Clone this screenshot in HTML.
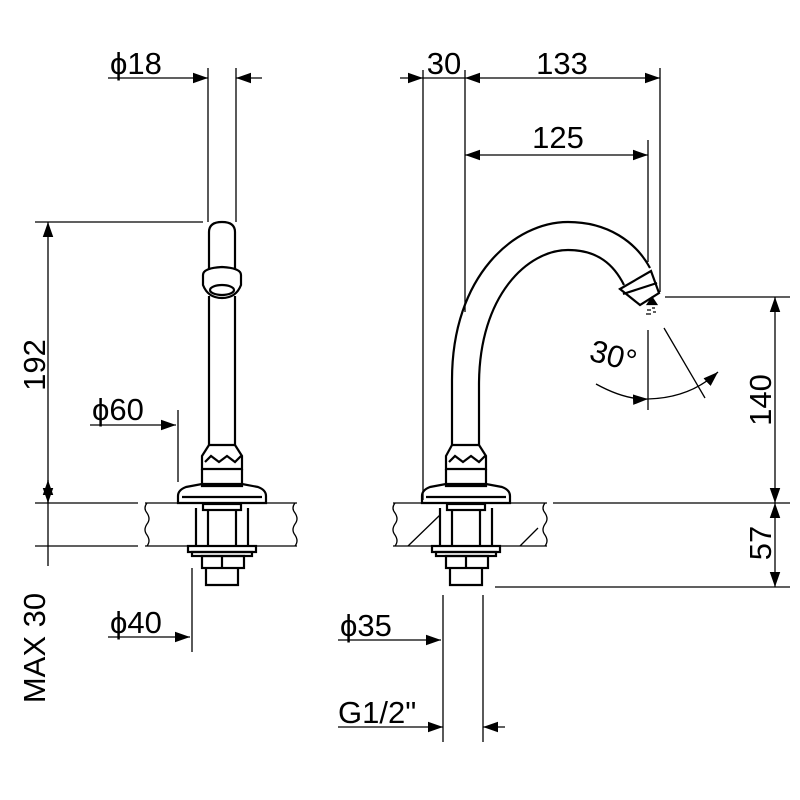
<!DOCTYPE html>
<html><head><meta charset="utf-8"><style>
html,body{margin:0;padding:0;background:#fff}
svg{display:block}
text{font-family:"Liberation Sans","DejaVu Sans",sans-serif;font-size:31px;fill:#000}
</style></head><body>
<svg width="800" height="800" viewBox="0 0 800 800" xmlns="http://www.w3.org/2000/svg">
<defs>
<marker id="a" viewBox="0 0 10 10" refX="10" refY="5" markerWidth="15" markerHeight="15" markerUnits="userSpaceOnUse" orient="auto-start-reverse"><path d="M0,1.5 L10,5 L0,8.5z" fill="#000"/></marker>
</defs>
<g stroke="#000" stroke-width="1.3" fill="none">
<line x1="208" y1="68" x2="208" y2="222"/><line x1="236" y1="68" x2="236" y2="222"/>
<line x1="108" y1="78" x2="208" y2="78" marker-end="url(#a)"/>
<line x1="262" y1="78" x2="236" y2="78" marker-end="url(#a)"/>
<line x1="35" y1="222" x2="203" y2="222"/>
<line x1="35" y1="503" x2="138" y2="503"/>
<line x1="35" y1="546" x2="138" y2="546"/>
<line x1="48" y1="222" x2="48" y2="503" marker-start="url(#a)" marker-end="url(#a)"/>
<line x1="48" y1="480" x2="48" y2="546" marker-start="url(#a)"/>
<line x1="48" y1="546" x2="48" y2="566"/>
<line x1="90" y1="425" x2="176" y2="425" marker-end="url(#a)"/>
<line x1="178" y1="410" x2="178" y2="482"/>
<line x1="108" y1="637" x2="190" y2="637" marker-end="url(#a)"/>
<line x1="192" y1="568" x2="192" y2="652"/>
<path d="M145,503 H297 M145,546 H297"/>
<path d="M147,503 q-4,5 0,10 q4,6 0,11 q-4,6 0,11 q4,6 0,11"/>
<path d="M295,503 q-4,5 0,10 q4,6 0,11 q-4,6 0,11 q4,6 0,11"/>
<g stroke-width="2.2">
<path d="M209,270 V232 Q209,222 222,222 Q235,222 235,232 V270"/>
<path d="M203,275 Q203,268 222,267 Q241,268 241,275 V285 Q236,298 222,298 Q208,298 203,285 Z"/>
<path d="M209,296 V445 M235,296 V445"/>
<ellipse cx="222" cy="290" rx="12" ry="5"/>
<path d="M209,445 L202,456 V469 H242 V456 L235,445 Z"/>
<path d="M205,462 l6,-6 l8,6 l8,-6 l8,6 l6,-6"/>
<path d="M202,469 V486 H242 V469"/>
<path d="M186,487 L202,484 H242 L258,487 Q266,490 266,496 V503 H178 V496 Q178,490 186,487 Z"/>
<line x1="182" y1="497" x2="262" y2="497"/>
<rect x="203" y="504" width="38" height="6"/>
<path d="M196,508 V546 M248,508 V546 M208,510 V546 M236,510 V546"/>
<rect x="188" y="546" width="68" height="6"/>
<rect x="192" y="552" width="60" height="4"/>
<rect x="202" y="556" width="42" height="12"/>
<line x1="222" y1="556" x2="222" y2="568"/>
<path d="M206,568 V585 H238 V568"/>
</g>
<line x1="423" y1="70" x2="423" y2="500"/>
<line x1="465" y1="70" x2="465" y2="312"/>
<line x1="660" y1="68" x2="660" y2="292"/>
<line x1="648" y1="140" x2="648" y2="262"/>
<line x1="400" y1="78" x2="423" y2="78" marker-end="url(#a)"/>
<line x1="423" y1="78" x2="465" y2="78"/>
<line x1="465" y1="78" x2="660" y2="78" marker-start="url(#a)" marker-end="url(#a)"/>
<line x1="465" y1="155" x2="648" y2="155" marker-start="url(#a)" marker-end="url(#a)"/>
<line x1="665" y1="297" x2="790" y2="297"/>
<line x1="553" y1="503" x2="790" y2="503"/>
<line x1="495" y1="587" x2="790" y2="587"/>
<line x1="775" y1="297" x2="775" y2="503" marker-start="url(#a)" marker-end="url(#a)"/>
<line x1="775" y1="503" x2="775" y2="587" marker-start="url(#a)" marker-end="url(#a)"/>
<line x1="443" y1="595" x2="443" y2="742"/>
<line x1="483" y1="595" x2="483" y2="742"/>
<line x1="338" y1="640" x2="441" y2="640" marker-end="url(#a)"/>
<line x1="338" y1="727" x2="443" y2="727" marker-end="url(#a)"/>
<line x1="505" y1="727" x2="483" y2="727" marker-end="url(#a)"/>
<line x1="648" y1="330" x2="648" y2="410"/>
<line x1="664" y1="328" x2="705" y2="398"/>
<path d="M596,384 Q625,400 648,399" marker-end="url(#a)"/>
<path d="M648,399 Q690,398 718,372" marker-end="url(#a)"/>
<path d="M393,503 H547 M393,546 H547"/>
<path d="M395,503 q-4,5 0,10 q4,6 0,11 q-4,6 0,11 q4,6 0,11"/>
<path d="M545,503 q-4,5 0,10 q4,6 0,11 q-4,6 0,11 q4,6 0,11"/>
<path d="M408,546 L440,515 M520,546 L538,528"/>
<g stroke-width="2.2">
<path d="M452,445 V380 C452,275 515,222 568,222 C608,222 636,242 650,268"/>
<path d="M479,445 V385 C479,295 528,250 568,250 C598,250 614,265 624,285"/>
<path d="M620,289 L651,271 L659,293 L640,305 Z"/>
<line x1="623" y1="294" x2="657" y2="283"/>
<path d="M652,298 l-4,6 h8 z" fill="#000"/>
<path d="M647,310 h4 M646,314 h5 M652,308 h3 M653,312 h3" stroke-width="1.2"/>
<path d="M452,445 L446,456 V469 H486 V456 L479,445 Z"/>
<path d="M449,462 l6,-6 l8,6 l8,-6 l8,6 l6,-6"/>
<path d="M446,469 V486 H486 V469"/>
<path d="M430,487 L446,484 H486 L502,487 Q510,490 510,496 V503 H422 V496 Q422,490 430,487 Z"/>
<line x1="426" y1="497" x2="506" y2="497"/>
<rect x="447" y="504" width="38" height="6"/>
<path d="M440,508 V546 M492,508 V546 M452,510 V546 M480,510 V546"/>
<rect x="432" y="546" width="68" height="6"/>
<rect x="436" y="552" width="60" height="4"/>
<rect x="446" y="556" width="42" height="12"/>
<line x1="466" y1="556" x2="466" y2="568"/>
<path d="M450,568 V585 H482 V568"/>
</g>
</g>
<text x="110" y="74">ϕ18</text>
<text x="92" y="420">ϕ60</text>
<text x="110" y="633">ϕ40</text>
<text transform="translate(45,365) rotate(-90)" text-anchor="middle">192</text>
<text transform="translate(45,648) rotate(-90)" text-anchor="middle">MAX 30</text>
<text x="444" y="74" text-anchor="middle">30</text>
<text x="562" y="74" text-anchor="middle">133</text>
<text x="558" y="148" text-anchor="middle">125</text>
<text transform="translate(771,400) rotate(-90)" text-anchor="middle">140</text>
<text transform="translate(771,543) rotate(-90)" text-anchor="middle">57</text>
<text x="340" y="636">ϕ35</text>
<text x="338" y="723">G1/2"</text>
<text transform="translate(588,360) rotate(15)">30°</text>
</svg>
</body></html>
